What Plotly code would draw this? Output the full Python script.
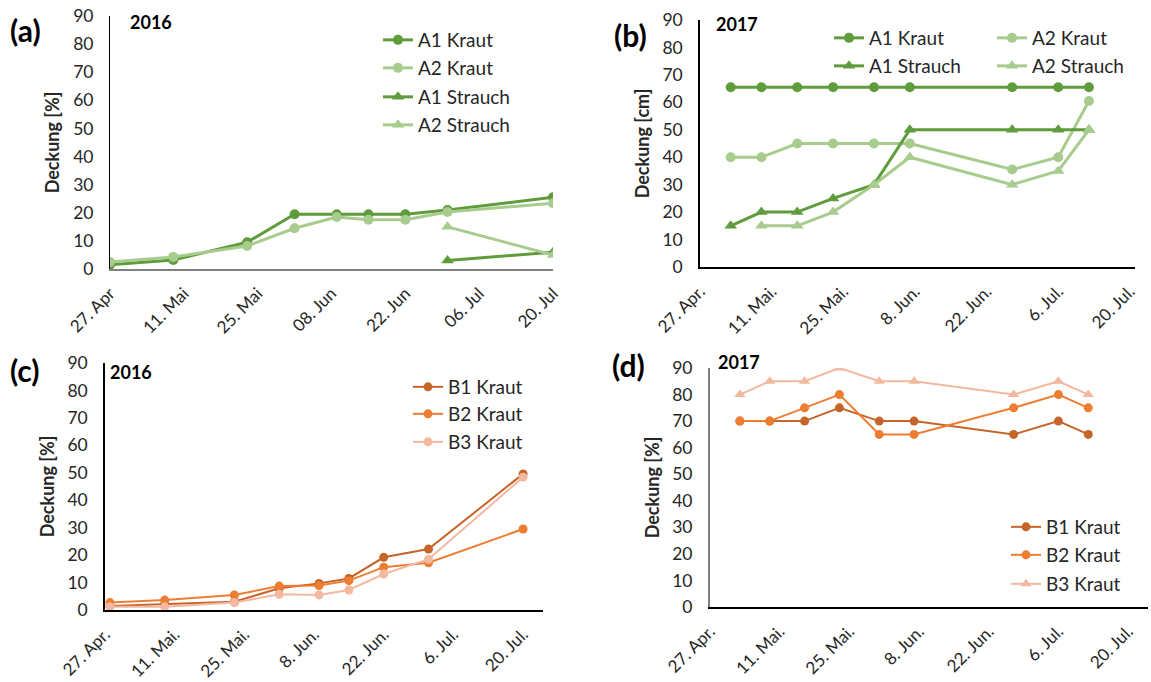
import plotly.graph_objects as go

# ---------------- data ----------------
# (a) 2016, plot A, cover in %
dates_a = ["2016-04-27", "2016-05-09", "2016-05-23", "2016-06-01", "2016-06-09",
           "2016-06-15", "2016-06-22", "2016-06-30", "2016-07-20"]
a1_kraut_16 = [1.5, 3.2, 9.5, 19.5, 19.5, 19.5, 19.5, 21, 25.5]
a2_kraut_16 = [2.5, 4.3, 8.2, 14.5, 18.5, 17.5, 17.5, 20.3, 23.4]
a1_strauch_16 = [None, None, None, None, None, None, None, 3, 6]
a2_strauch_16 = [None, None, None, None, None, None, None, 15, 5]

# (b) 2017, plot A
dates_b = ["2017-05-03", "2017-05-09", "2017-05-16", "2017-05-23", "2017-05-31",
           "2017-06-07", "2017-06-27", "2017-07-06", "2017-07-12"]
a1_kraut_17 = [65.5, 65.5, 65.5, 65.5, 65.5, 65.5, 65.5, 65.5, 65.5]
a2_kraut_17 = [40, 40, 45, 45, 45, 45, 35.5, 40, 60.5]
a1_strauch_17 = [15, 20, 20, 25, 30, 50, 50, 50, 50]
a2_strauch_17 = [None, 15, 15, 20, 30, 40, 30, 35, 50]

# (c) 2016, plot B
dates_c = ["2016-04-28", "2016-05-09", "2016-05-23", "2016-06-01", "2016-06-09",
           "2016-06-15", "2016-06-22", "2016-07-01", "2016-07-20"]
b1_kraut_16 = [1.5, 2.2, 3.0, 7.9, 9.7, 11.5, 19.2, 22.2, 49.6]
b2_kraut_16 = [2.7, 3.6, 5.5, 8.7, 8.9, 10.7, 15.6, 17.2, 29.5]
b3_kraut_16 = [1.2, 1.2, 2.7, 5.7, 5.5, 7.3, 13.1, 18.5, 48.4]

# (d) 2017, plot B
dates_d = dates_b
b1_kraut_17 = [70, 70, 70, 75, 70, 70, 65, 70, 65]
b2_kraut_17 = [70, 70, 75, 80, 65, 65, 75, 80, 75]
b3_kraut_17 = [80, 85, 85, 90, 85, 85, 80, 85, 80]

tick_dates_16 = ["2016-04-27", "2016-05-11", "2016-05-25", "2016-06-08",
                 "2016-06-22", "2016-07-06", "2016-07-20"]
tick_dates_17 = ["2017-04-27", "2017-05-11", "2017-05-25", "2017-06-08",
                 "2017-06-22", "2017-07-06", "2017-07-20"]
ticktext_a = ["27. Apr", "11. Mai", "25. Mai", "08. Jun", "22. Jun", "06. Jul", "20. Jul"]
ticktext_rest = ["27. Apr.", "11. Mai.", "25. Mai.", "8. Jun.", "22. Jun.", "6. Jul.", "20. Jul."]

# ---------------- styling ----------------
W, H = 1151, 682
FONT = "Lato"
GREEN_DARK = "#5f9c3b"
GREEN_LIGHT = "#a7cc8e"
ORANGE_DARK = "#c5652a"
ORANGE = "#ed7d31"
ORANGE_LIGHT = "#f4b8a0"
TEXT = "#262626"


def px_x(px):
    return px / W


def px_y(py):
    return 1 - py / H


fig = go.Figure()

legend_layouts = {}
legend_count = [0]


def add_series(x, y, name, color, symbol, width, size, axis, leg_pos):
    legend_count[0] += 1
    lid = "legend" if legend_count[0] == 1 else f"legend{legend_count[0]}"
    xa, ya = axis
    fig.add_trace(go.Scatter(
        x=x, y=y, name=name, mode="lines+markers",
        line=dict(color=color, width=width),
        marker=dict(color=color, symbol=symbol, size=size),
        xaxis=xa, yaxis=ya, legend=lid, connectgaps=False,
    ))
    legend_layouts[lid] = dict(
        x=px_x(leg_pos[0]), y=px_y(leg_pos[1]), xanchor="left", yanchor="middle",
        bgcolor="rgba(0,0,0,0)", borderwidth=0,
        font=dict(family=FONT, size=19, color=TEXT),
        itemwidth=30, tracegroupgap=0,
    )


# (a)
ax_a = ("x", "y")
add_series(dates_a, a1_kraut_16, "A1 Kraut", GREEN_DARK, "circle", 3, 10, ax_a, (378, 40))
add_series(dates_a, a2_kraut_16, "A2 Kraut", GREEN_LIGHT, "circle", 3, 10, ax_a, (378, 68))
add_series(dates_a, a1_strauch_16, "A1 Strauch", GREEN_DARK, "triangle-up", 3, 11, ax_a, (378, 97))
add_series(dates_a, a2_strauch_16, "A2 Strauch", GREEN_LIGHT, "triangle-up", 3, 11, ax_a, (378, 125))

# (b)
ax_b = ("x2", "y2")
add_series(dates_b, a1_kraut_17, "A1 Kraut", GREEN_DARK, "circle", 3, 10, ax_b, (829, 38))
add_series(dates_b, a2_kraut_17, "A2 Kraut", GREEN_LIGHT, "circle", 3, 10, ax_b, (992, 38))
add_series(dates_b, a1_strauch_17, "A1 Strauch", GREEN_DARK, "triangle-up", 3, 11, ax_b, (829, 66))
add_series(dates_b, a2_strauch_17, "A2 Strauch", GREEN_LIGHT, "triangle-up", 3, 11, ax_b, (992, 66))

# (c)
ax_c = ("x3", "y3")
add_series(dates_c, b1_kraut_16, "B1 Kraut", ORANGE_DARK, "circle", 2, 9, ax_c, (408, 387))
add_series(dates_c, b2_kraut_16, "B2 Kraut", ORANGE, "circle", 2, 9, ax_c, (408, 414))
add_series(dates_c, b3_kraut_16, "B3 Kraut", ORANGE_LIGHT, "circle", 2, 9, ax_c, (408, 442))

# (d)
ax_d = ("x4", "y4")
add_series(dates_d, b1_kraut_17, "B1 Kraut", ORANGE_DARK, "circle", 2, 9, ax_d, (1006, 527))
add_series(dates_d, b2_kraut_17, "B2 Kraut", ORANGE, "circle", 2, 9, ax_d, (1006, 555))
add_series(dates_d, b3_kraut_17, "B3 Kraut", ORANGE_LIGHT, "triangle-up", 2, 10, ax_d, (1006, 584))


def xaxis(dom_px, rng, tickvals, ticktext, anchor, color, width):
    return dict(
        domain=[px_x(dom_px[0]), px_x(dom_px[1])], range=rng, type="date",
        tickmode="array", tickvals=tickvals, ticktext=ticktext, tickangle=-45,
        showgrid=False, zeroline=False, showline=True, linecolor=color, linewidth=width,
        ticks="", tickfont=dict(family=FONT, size=17, color=TEXT), anchor=anchor,
        ticklabelstandoff=6, automargin=False,
    )


def yaxis(dom_px, anchor, color, width, title):
    return dict(
        domain=[px_y(dom_px[1]), px_y(dom_px[0])], range=[0, 90],
        tickmode="array", tickvals=list(range(0, 91, 10)),
        showgrid=False, zeroline=False, showline=True, linecolor=color, linewidth=width,
        ticks="", tickfont=dict(family=FONT, size=17.5, color=TEXT), anchor=anchor,
        ticklabelstandoff=12, automargin=False,
        title=dict(text=f"<b>{title}</b>", font=dict(family=FONT, size=18, color=TEXT), standoff=8),
    )


layout = dict(
    width=W, height=H, margin=dict(l=0, r=0, t=0, b=0, autoexpand=False),
    paper_bgcolor="white", plot_bgcolor="white", showlegend=True,
    xaxis=xaxis((110, 553), ["2016-04-27", "2016-07-20"], tick_dates_16, ticktext_a, "y", "#808080", 2),
    yaxis=yaxis((16, 269), "x", "#000000", 1, "Deckung [%]"),
    xaxis2=xaxis((700, 1135), ["2017-04-27", "2017-07-21"], tick_dates_17, ticktext_rest, "y2", "#000000", 1.5),
    yaxis2=yaxis((20, 267), "x2", "#000000", 1.5, "Deckung [cm]"),
    xaxis3=xaxis((105, 543), ["2016-04-27", "2016-07-24"], tick_dates_16, ticktext_rest, "y3", "#000000", 1.5),
    yaxis3=yaxis((363, 610), "x3", "#000000", 1.5, "Deckung [%]"),
    xaxis4=xaxis((710, 1148), ["2017-04-27", "2017-07-24"], tick_dates_17, ticktext_rest, "y4", "#000000", 1.5),
    yaxis4=yaxis((368, 607), "x4", "#7f7f7f", 2, "Deckung [%]"),
)
layout.update(legend_layouts)
fig.update_layout(**layout)

# panel letters and year labels
labels = [
    ("(a)", 8, 30, 30), ("(b)", 612, 35, 30), ("(c)", 8, 370, 30), ("(d)", 610, 365, 30),
    ("2016", 128, 22, 18), ("2017", 714, 24, 18), ("2016", 108, 372, 18), ("2017", 716, 362, 18),
]
for text, xp, yp, size in labels:
    fig.add_annotation(
        x=px_x(xp), y=px_y(yp), xref="paper", yref="paper", xanchor="left", yanchor="middle",
        text=f"<b>{text}</b>", showarrow=False, font=dict(family=FONT, size=size, color="#000000"),
    )

fig.write_html("out.html")
